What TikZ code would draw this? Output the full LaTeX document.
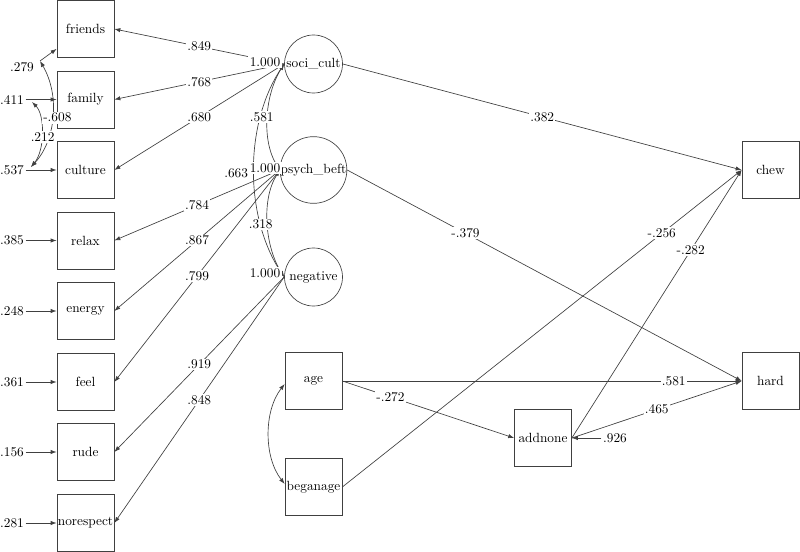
\documentclass[tikz,border=0pt]{standalone}
\usetikzlibrary{arrows.meta,calc}
\begin{document}
\begin{tikzpicture}[x=0.75pt,y=-0.75pt,line width=0.5pt,
  box/.style={draw=black!75,minimum width=42.75pt,minimum height=42.75pt,inner sep=0pt,font=\fontsize{10}{12}\selectfont},
  lat/.style={draw=black!75,circle,minimum size=43.5pt,inner sep=0pt,font=\fontsize{10}{12}\selectfont},
  lbl/.style={fill=white,inner sep=1pt,font=\fontsize{10}{12}\selectfont},
  arr/.style={draw=black!75,-{Latex[length=4.5pt,width=3.2pt]}},
  dbl/.style={draw=black!75,{Latex[length=4.5pt,width=3.2pt]}-{Latex[length=4.5pt,width=3.2pt]}}]
\useasboundingbox (0,0) rectangle (800,552);
% indicators
\node[box] (friends) at (85.5,29) {friends};
\node[box] (family) at (85.5,99.5) {family};
\node[box] (culture) at (85.5,170) {culture};
\node[box] (relax) at (85.5,240.5) {relax};
\node[box] (energy) at (85.5,311) {energy};
\node[box] (feel) at (85.5,382) {feel};
\node[box] (rude) at (85.5,452) {rude};
\node[box] (norespect) at (85.5,523) {norespect};
% latents
\node[lat] (soci) at (313.5,64) {soci\_cult};
\node[lat] (psych) at (313.5,170) {psych\_beft};
\node[lat] (neg) at (313.5,277) {negative};
% observed
\node[box] (age) at (313.5,381) {age};
\node[box] (beganage) at (313.5,487) {beganage};
\node[box] (addnone) at (543,438) {addnone};
\node[box] (chew) at (770.5,170) {chew};
\node[box] (hard) at (770.5,381) {hard};
% error terms of indicators
\coordinate (ef) at (40,61);
\coordinate (efam) at (32,102);
\coordinate (ecul) at (31,167);
\node[lbl] (lf) at (22,67) {.279};
\draw[arr] (ef) -- ($(friends.south west)+(0,-9)$);
\node[lbl] (e2) at (12,99.5) {.411};
\draw[arr] (e2) -- (family);
\node[lbl] (e3) at (12,170) {.537};
\draw[arr] (e3) -- (culture);
\node[lbl] (e4) at (12,240.5) {.385};
\draw[arr] (e4) -- (relax);
\node[lbl] (e5) at (12,311) {.248};
\draw[arr] (e5) -- (energy);
\node[lbl] (e6) at (12,382) {.361};
\draw[arr] (e6) -- (feel);
\node[lbl] (e7) at (12,452) {.156};
\draw[arr] (e7) -- (rude);
\node[lbl] (e8) at (12,523) {.281};
\draw[arr] (e8) -- (norespect);
\draw[dbl] (ef) .. controls (60,95) and (56,140) .. (ecul) coordinate[pos=0.5] (mA);
\draw[dbl] (efam) .. controls (45,115) and (45,150) .. (ecul) coordinate[pos=0.5] (mB);
\node[lbl] at ($(mA)+(5,1)$) {-.608};
\node[lbl] at ($(mB)+(1,4)$) {.212};
% loadings
\draw[arr] (soci.west) -- (friends.east) node[lbl,pos=0.5] {.849};
\draw[arr] (soci.west) -- (family.east) node[lbl,pos=0.5] {.768};
\draw[arr] (soci.west) -- (culture.east) node[lbl,pos=0.5] {.680};
\draw[arr] (psych.west) -- (relax.east) node[lbl,pos=0.5] {.784};
\draw[arr] (psych.west) -- (energy.east) node[lbl,pos=0.5] {.867};
\draw[arr] (psych.west) -- (feel.east) node[lbl,pos=0.5] {.799};
\draw[arr] (neg.west) -- (rude.east) node[lbl,pos=0.5] {.919};
\draw[arr] (neg.west) -- (norespect.east) node[lbl,pos=0.5] {.848};
% latent correlations
\draw[dbl] (soci.west) .. controls ($(soci.west)+(-19,30)$) and ($(psych.west)+(-19,-30)$) .. (psych.west) coordinate[pos=0.5] (m1);
\draw[dbl] (psych.west) .. controls ($(psych.west)+(-19,30)$) and ($(neg.west)+(-19,-30)$) .. (neg.west) coordinate[pos=0.5] (m2);
\draw[dbl] (soci.west) .. controls ($(soci.west)+(-40,60)$) and ($(neg.west)+(-40,-60)$) .. (neg.west) coordinate[pos=0.5] (m3);
% latent variances
\node[lbl] at (265,62) {1.000};
\node[lbl] at (265,168) {1.000};
\node[lbl] at (265,273) {1.000};
\node[lbl] at ($(m1)+(-6,0)$) {.581};
\node[lbl] at ($(m2)+(-7,1)$) {.318};
\node[lbl] at ($(m3)+(-18,3)$) {.663};
% structural paths
\draw[arr] (soci.east) -- (chew.west) node[lbl,pos=0.5] {.382};
\draw[arr] (psych.east) -- (hard.west) node[lbl,pos=0.3] {-.379};
\draw[arr] (beganage.east) -- (chew.west) node[lbl,pos=0.8] {-.256};
\draw[arr] (addnone.east) -- (chew.west) node[lbl,pos=0.7] {-.282};
\draw[arr] (age.east) -- (hard.west) node[lbl,pos=0.83] {.581};
\draw[arr] (age.east) -- (addnone.west) node[lbl,pos=0.28] {-.272};
\draw[arr] (addnone.east) -- (hard.west) node[lbl,pos=0.5] {.465};
\node[lbl] (eadd) at (615,438) {.926};
\draw[arr] (eadd) -- (addnone);
\draw[dbl] ($(age.west)+(0,3)$) .. controls ($(age.west)+(-21,30)$) and ($(beganage.west)+(-21,-30)$) .. ($(beganage.west)+(0,-3)$);
\end{tikzpicture}
\end{document}
